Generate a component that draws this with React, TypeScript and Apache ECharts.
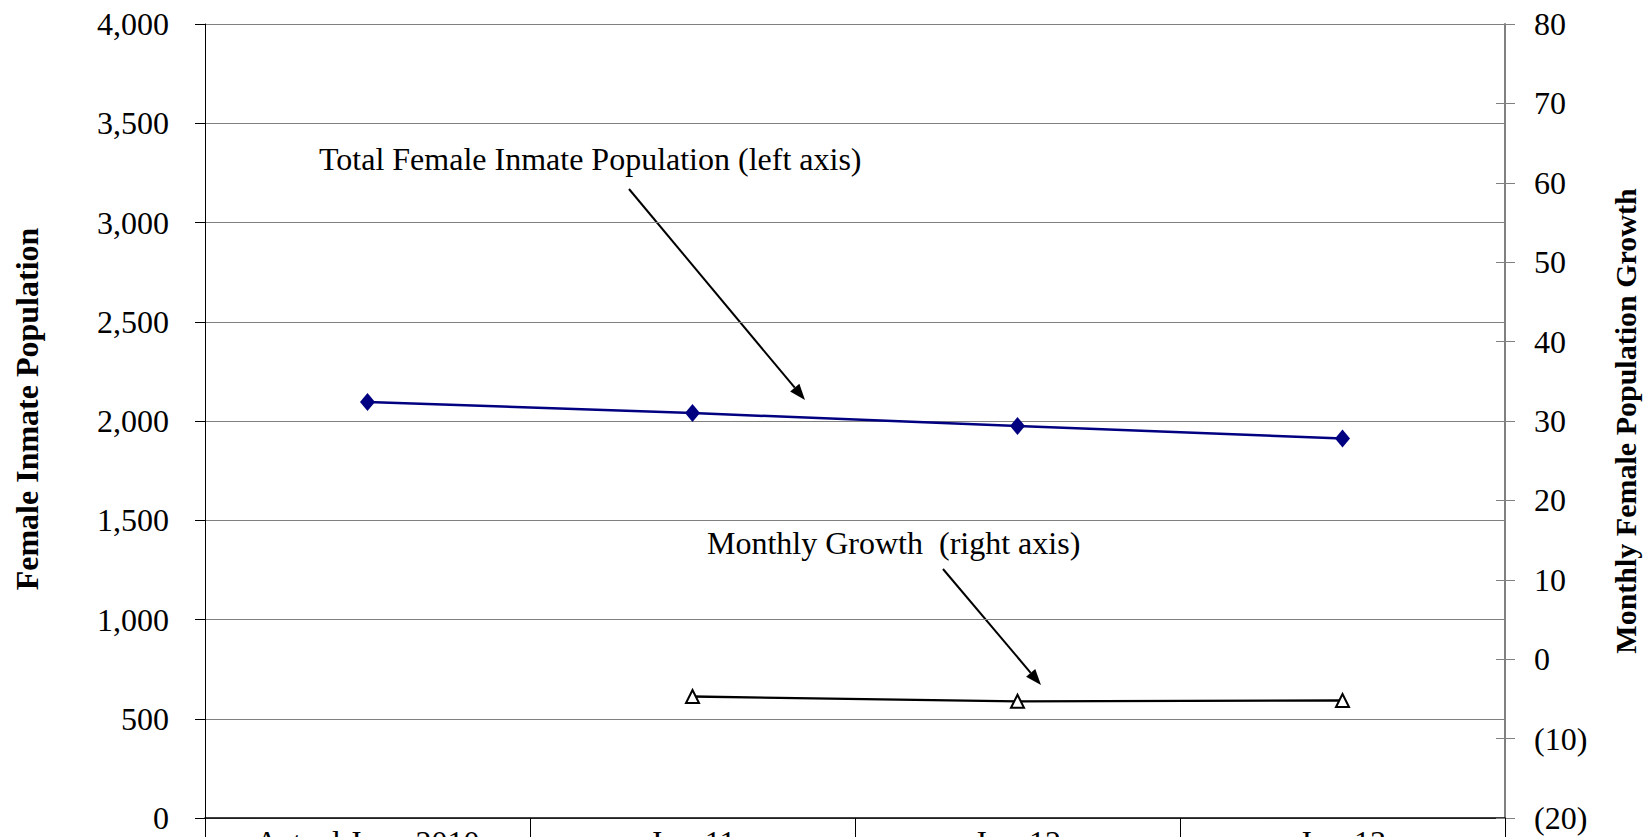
import React, { useEffect, useRef } from "react";
import * as echarts from "echarts";

// Projection periods along the horizontal axis
const categories = ["Actual June 2010", "Jun-11", "Jun-12", "Jun-13"];
// Total female inmate population (left axis)
const totalPopulation = [2096, 2040, 1975, 1912];
// Average monthly female population growth (right axis); no value for the base year
const monthlyGrowth: (number | null)[] = [null, -4.7, -5.3, -5.2];

const leftTitle = "Female Inmate Population";
const rightTitle = "Monthly Female Population Growth";
const totalNote = "Total Female Inmate Population (left axis)";
const growthNote = "Monthly Growth  (right axis)";

const SERIF = '"Liberation Serif", "Times New Roman", Times, serif';

// Line with a filled arrowhead at its end point
function arrow(x1: number, y1: number, x2: number, y2: number, headLen = 16, headHalf = 6) {
  const dx = x2 - x1;
  const dy = y2 - y1;
  const len = Math.hypot(dx, dy);
  const ux = dx / len;
  const uy = dy / len;
  const bx = x2 - ux * headLen;
  const by = y2 - uy * headLen;
  const nx = -uy;
  const ny = ux;
  return [
    {
      type: "line",
      shape: { x1, y1, x2: bx, y2: by },
      style: { stroke: "#000", lineWidth: 2 },
      silent: true,
    },
    {
      type: "polygon",
      shape: {
        points: [
          [x2, y2],
          [bx + nx * headHalf, by + ny * headHalf],
          [bx - nx * headHalf, by - ny * headHalf],
        ],
      },
      style: { fill: "#000" },
      silent: true,
    },
  ];
}

export default function App() {
  const ref = useRef<HTMLDivElement>(null);

  useEffect(() => {
    if (!ref.current) return;
    const chart = echarts.init(ref.current, undefined, { renderer: "svg" });

    const axisText = { fontFamily: SERIF, fontSize: 32, color: "#000" };
    const rightRange = { min: -20, max: 80, interval: 10 };

    chart.setOption({
      animation: false,
      backgroundColor: "#fff",
      grid: {
        left: 205,
        top: 24,
        width: 1300,
        height: 794,
        containLabel: false,
        outerBoundsMode: "none",
      },
      xAxis: {
        type: "category",
        data: categories,
        boundaryGap: true,
        axisLine: { show: true, lineStyle: { color: "#000", width: 1.5 } },
        axisTick: { show: true, length: 26, lineStyle: { color: "#000", width: 1 } },
        axisLabel: { ...axisText, margin: 8, interval: 0 },
        splitLine: { show: false },
      },
      yAxis: [
        {
          type: "value",
          position: "left",
          min: 0,
          max: 4000,
          interval: 500,
          axisLine: { show: true, lineStyle: { color: "#000", width: 1 } },
          axisTick: { show: true, length: 10, lineStyle: { color: "#000" } },
          axisLabel: {
            ...axisText,
            margin: 36,
            formatter: (v: number) => v.toLocaleString("en-US"),
          },
          splitLine: { show: true, lineStyle: { color: "#808080", width: 1 } },
        },
        {
          type: "value",
          position: "right",
          ...rightRange,
          axisLine: { show: true, lineStyle: { color: "#808080", width: 2 } },
          axisTick: { show: true, length: 10, lineStyle: { color: "#808080", width: 1 } },
          axisLabel: {
            ...axisText,
            margin: 29,
            formatter: (v: number) => (v < 0 ? `(${-v})` : `${v}`),
          },
          splitLine: { show: false },
        },
        {
          // inner half of the crossing ticks on the right axis
          type: "value",
          position: "right",
          ...rightRange,
          axisLine: { show: false },
          axisTick: { show: true, inside: true, length: 9, lineStyle: { color: "#808080", width: 1 } },
          axisLabel: { show: false },
          splitLine: { show: false },
        },
      ],
      series: [
        {
          name: "Total Female Inmate Population",
          type: "line",
          yAxisIndex: 0,
          data: totalPopulation,
          symbol: "diamond",
          symbolSize: [15, 18],
          showAllSymbol: true,
          itemStyle: { color: "#000080" },
          lineStyle: { color: "#000080", width: 2.5 },
          z: 3,
        },
        {
          name: "Monthly Growth",
          type: "line",
          yAxisIndex: 1,
          data: monthlyGrowth,
          symbol: "triangle",
          symbolSize: 13,
          showAllSymbol: true,
          itemStyle: { color: "#fff", borderColor: "#000", borderWidth: 2 },
          lineStyle: { color: "#000", width: 2.3 },
          z: 3,
        },
      ],
      graphic: [
        {
          type: "text",
          x: 27,
          y: 409,
          rotation: Math.PI / 2,
          style: {
            text: leftTitle,
            font: `bold 32px ${SERIF}`,
            fill: "#000",
            align: "center",
            verticalAlign: "middle",
          },
        },
        {
          type: "text",
          x: 1625,
          y: 421,
          rotation: Math.PI / 2,
          style: {
            text: rightTitle,
            font: `bold 30px ${SERIF}`,
            fill: "#000",
            align: "center",
            verticalAlign: "middle",
          },
        },
        {
          type: "text",
          x: 319,
          y: 158.5,
          style: {
            text: totalNote,
            font: `32px ${SERIF}`,
            fill: "#000",
            align: "left",
            verticalAlign: "middle",
          },
        },
        {
          type: "text",
          x: 707,
          y: 542.5,
          style: {
            text: growthNote,
            font: `32px ${SERIF}`,
            fill: "#000",
            align: "left",
            verticalAlign: "middle",
          },
        },
        ...arrow(629, 189, 805, 400),
        ...arrow(943, 569, 1041, 685),
      ],
    });

    return () => chart.dispose();
  }, []);

  return (
    <div
      ref={ref}
      style={{
        position: "absolute",
        left: 0,
        top: 0,
        width: 1646,
        height: 837,
        overflow: "hidden",
        background: "#fff",
      }}
    />
  );
}
